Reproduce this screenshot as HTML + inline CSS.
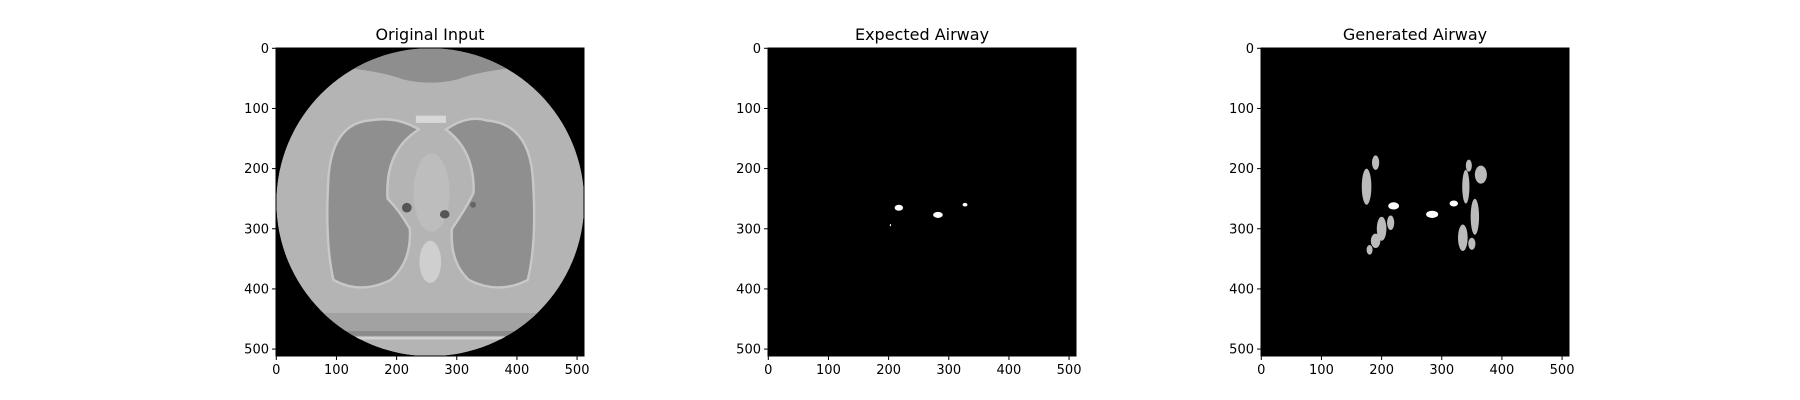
<!DOCTYPE html>
<html><head><meta charset="utf-8"><style>
body{margin:0;background:#fff;}
svg{display:block;font-family:"DejaVu Sans","Liberation Sans",sans-serif;}
</style></head><body>
<svg id="fig" width="1800" height="400" xmlns="http://www.w3.org/2000/svg">
<defs>
<clipPath id="clipA"><rect x="-0.5" y="-0.5" width="512" height="512"/></clipPath>
<clipPath id="clipC"><circle cx="256" cy="256" r="256"/></clipPath>
</defs>
</svg>
<script>
const panelTitles = ["Original Input", "Expected Airway", "Generated Airway"];
const panelLefts = [276, 768, 1261];
const tickValues = [0, 100, 200, 300, 400, 500];
// expected airway blobs: [x, y, rx, ry]
const expectedX = [217, 282, 327, 203];
const expectedY = [265, 277, 260, 294];
const expectedRx = [7, 8, 4, 1];
const expectedRy = [5, 5, 3, 2];
// generated airway blobs
const genX = [220, 284, 320, 175, 200, 215, 190, 340, 355, 335, 365, 190, 345, 180, 350];
const genY = [262, 276, 258, 230, 300, 290, 320, 230, 280, 315, 210, 190, 195, 335, 325];
const genRx = [9, 10, 7, 8, 8, 6, 8, 6, 7, 8, 10, 6, 5, 5, 6];
const genRy = [6, 6, 5, 30, 20, 12, 12, 28, 30, 22, 15, 12, 10, 8, 10];

const NS = "http://www.w3.org/2000/svg";
const svg = document.getElementById("fig");
const TOP = 48, SIZE = 308, EXT = 512;
function el(tag, attrs, parent){const e=document.createElementNS(NS,tag);for(const k in attrs)e.setAttribute(k,attrs[k]);(parent||svg).appendChild(e);return e;}
function sx(v, left){return left + (v + 0.5) * SIZE / EXT;}
function sy(v){return TOP + (v + 0.5) * SIZE / EXT;}

panelTitles.forEach((t, i) => {
  const left = panelLefts[i];
  const g = el("g", {});
  
  
  const title = el("text", {x: left + SIZE / 2, y: TOP - 8, "text-anchor": "middle", "font-size": "16", fill: "#000"}, g);
  title.textContent = t;
  
  
  el("rect", {x: left, y: TOP, width: SIZE, height: SIZE, fill: "#000"}, g);
  const img0 = el("g", {transform: `translate(${left + 0.5 * SIZE / EXT},${TOP + 0.5 * SIZE / EXT}) scale(${SIZE / EXT})`, "clip-path": "url(#clipA)"}, g);
  
  
  if (i === 0) {
    const img = el("g", {"clip-path": "url(#clipC)"}, img0);
    el("circle", {cx: 256, cy: 256, r: 256, fill: "#b4b4b4"}, img);
    el("path", {d: "M0,0 L512,0 L512,30 L460,30 Q360,30 300,52 Q256,62 212,52 Q150,30 50,30 L0,30 Z", fill: "#8e8e8e"}, img);
    el("path", {d: "M155,120 Q95,125 87,210 Q80,320 95,385 Q140,410 190,385 Q225,355 222,300 Q205,270 185,250 Q180,170 237,135 Q200,112 155,120 Z", fill: "#8f8f8f", stroke: "#c8c8c8", "stroke-width": 4}, img);
    el("path", {d: "M350,120 Q418,125 426,210 Q434,320 418,385 Q370,410 320,385 Q288,355 292,300 Q318,262 328,240 Q330,170 282,135 Q318,110 350,120 Z", fill: "#8f8f8f", stroke: "#c8c8c8", "stroke-width": 4}, img);
    el("ellipse", {cx: 258, cy: 240, rx: 30, ry: 65, fill: "#bdbdbd"}, img);
    el("ellipse", {cx: 256, cy: 355, rx: 18, ry: 35, fill: "#cfcfcf"}, img);
    el("rect", {x: 232, y: 112, width: 50, height: 12, fill: "#d8d8d8"}, img);
    el("ellipse", {cx: 217, cy: 265, rx: 8, ry: 8, fill: "#555"}, img);
    el("ellipse", {cx: 280, cy: 276, rx: 8, ry: 7, fill: "#555"}, img);
    el("ellipse", {cx: 327, cy: 260, rx: 5, ry: 5, fill: "#666"}, img);
    el("rect", {x: 0, y: 440, width: 512, height: 30, fill: "#a2a2a2"}, img);
    el("rect", {x: 0, y: 470, width: 512, height: 8, fill: "#8a8a8a"}, img);
    el("rect", {x: 0, y: 480, width: 512, height: 4, fill: "#d2d2d2"}, img);
  } else {
    const xs = i === 1 ? expectedX : genX, ys = i === 1 ? expectedY : genY;
    const rxs = i === 1 ? expectedRx : genRx, rys = i === 1 ? expectedRy : genRy;
    xs.forEach((x, k) => {
      const b = el("ellipse", {cx: x, cy: ys[k], rx: rxs[k], ry: rys[k], fill: (i === 2 && k > 2) ? "#bbb" : "#fff"}, img0);
      
      
    });
  }
  tickValues.forEach(v => {
    const xx = sx(v, left);
    el("line", {x1: xx, y1: TOP + SIZE, x2: xx, y2: TOP + SIZE + 4, stroke: "#000", "stroke-width": 1}, g);
    const tx = el("text", {x: xx, y: TOP + SIZE + 18, "text-anchor": "middle", "font-size": "13", fill: "#000"}, g);
    tx.textContent = v;
    
    
    const yy = sy(v);
    el("line", {x1: left - 4, y1: yy, x2: left, y2: yy, stroke: "#000", "stroke-width": 1}, g);
    const ty = el("text", {x: left - 7, y: yy + 4.5, "text-anchor": "end", "font-size": "13", fill: "#000"}, g);
    ty.textContent = v;
    
    
  });
  el("rect", {x: left, y: TOP, width: SIZE, height: SIZE, fill: "none", stroke: "#000", "stroke-width": 1}, g);
});
</script>
</body></html>
